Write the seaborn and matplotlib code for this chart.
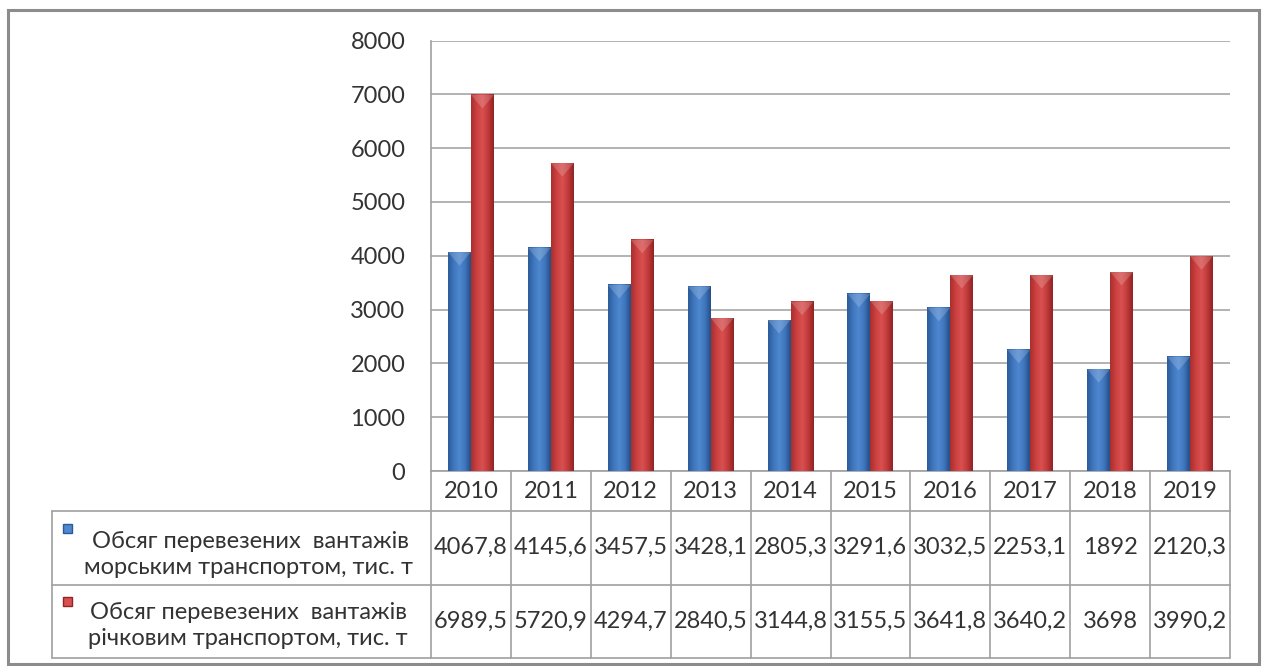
import numpy as np
import pandas as pd
import matplotlib
matplotlib.use("Agg")
import matplotlib.pyplot as plt
import seaborn as sns
from matplotlib.colors import LinearSegmentedColormap
from matplotlib.patches import Rectangle
from matplotlib.lines import Line2D
from matplotlib.transforms import blended_transform_factory

# ---- data ----
years = ["2010", "2011", "2012", "2013", "2014", "2015", "2016", "2017", "2018", "2019"]
sea = [4067.8, 4145.6, 3457.5, 3428.1, 2805.3, 3291.6, 3032.5, 2253.1, 1892, 2120.3]
river = [6989.5, 5720.9, 4294.7, 2840.5, 3144.8, 3155.5, 3641.8, 3640.2, 3698, 3990.2]
series_labels = [" Обсяг перевезених  вантажів\nморським транспортом, тис. т",
                 "Обсяг перевезених  вантажів\nрічковим транспортом, тис. т"]
y_ticks = [0, 1000, 2000, 3000, 4000, 5000, 6000, 7000, 8000]

sns.set_theme(style="white")
plt.rcParams['font.family'] = ['Lato', 'DejaVu Sans']

W, H = 1265, 666
fig = plt.figure(figsize=(W / 100, H / 100), dpi=100)
fig.patch.set_facecolor("white")

L, R, T, B = 431, 1230, 40.5, 471
ax = fig.add_axes([L / W, 1 - B / H, (R - L) / W, (B - T) / H])

df = pd.DataFrame({
    "year": years * 2,
    "value": sea + river,
    "series": ["sea"] * len(years) + ["river"] * len(years),
})
base_cols = {"sea": "#3b6fb6", "river": "#c53a3a"}
sns.barplot(data=df, x="year", y="value", hue="series", hue_order=["sea", "river"],
            palette=base_cols, width=0.575, ax=ax, legend=False, zorder=3,
            edgecolor="none", linewidth=0)

# gradient shading on bars
cmaps = [
    LinearSegmentedColormap.from_list("b", ["#2b5a98", "#3f76be", "#5088cf", "#3f76be", "#244e86"]),
    LinearSegmentedColormap.from_list("r", ["#a82e2e", "#cc4040", "#d85050", "#c23a3a", "#8e2424"]),
]
grad = np.linspace(0, 1, 64).reshape(1, -1)
n = len(years)
for i, p in enumerate(ax.patches):
    x0, w, h = p.get_x(), p.get_width(), p.get_height()
    cm = cmaps[0] if i < n else cmaps[1]
    ax.imshow(grad, extent=[x0, x0 + w, 0, h], aspect="auto", cmap=cm,
              zorder=4, interpolation="bicubic")
    # top bevel highlight
    tri_h = 250 if h > 300 else h * 0.3
    ax.fill([x0, x0 + w, x0 + w / 2], [h, h, h - tri_h], color="white", alpha=0.18, zorder=5, lw=0)

ax.set_xlim(-0.5, n - 0.5)
ax.set_ylim(0, 8000)
ax.set_yticks(y_ticks)
ax.set_yticklabels([str(t) for t in y_ticks])
ax.set_xticks([])
ax.set_xlabel("")
ax.set_ylabel("")
ax.yaxis.grid(True, color="#a6a6a6", linewidth=1.2, zorder=0)
ax.set_axisbelow(True)
for s in ["top", "right"]:
    ax.spines[s].set_visible(False)
for s in ["left", "bottom"]:
    ax.spines[s].set_color("#a0a0a0")
    ax.spines[s].set_linewidth(1.2)
ax.tick_params(axis="y", length=0, pad=18.5, labelsize=17, labelcolor="#333333")

# ---- data table ----
def fy(y):
    return 1 - y / H

def fx(x):
    return x / W

tr = blended_transform_factory(ax.transData, fig.transFigure)
line_kw = dict(color="#a0a0a0", linewidth=1.2, clip_on=False)
y_row = [471, 511, 584.5, 658]
TL = 52
# horizontal lines
for y in y_row[1:]:
    fig.add_artist(Line2D([fx(TL), fx(R)], [fy(y), fy(y)], transform=fig.transFigure, **line_kw))
# vertical lines between categories
for k in range(n + 1):
    xk = k - 0.5
    fig.add_artist(Line2D([xk, xk], [fy(471), fy(658)], transform=tr, **line_kw))
fig.add_artist(Line2D([fx(TL), fx(TL)], [fy(511), fy(658)], transform=fig.transFigure, **line_kw))

txt_col = "#333333"
for k, yr in enumerate(years):
    fig.text(k, fy(492), yr, transform=tr, ha="center", va="center", fontsize=17, color=txt_col)

def fmt(v):
    return f"{v:g}".replace(".", ",")

for r, vals in enumerate([sea, river]):
    yc = (y_row[r + 1] + y_row[r + 2]) / 2
    for k, v in enumerate(vals):
        fig.text(k, fy(yc), fmt(v), transform=tr, ha="center", va="center",
                 fontsize=17, color=txt_col)

# row labels with legend keys
key_cols = [("#5088cf", "#2b5a98"), ("#d85050", "#8e2424")]
offs = [7, 4]
for r, lab in enumerate(series_labels):
    yc = (y_row[r + 1] + y_row[r + 2]) / 2
    fig.text(fx(248), fy(yc + offs[r]), lab, ha="center", va="center", fontsize=17,
             color=txt_col, linespacing=1.3, transform=fig.transFigure)
    ky = 524 if r == 0 else 597
    fig.add_artist(Rectangle((fx(63), fy(ky + 9)), 9 / W, 9 / H, transform=fig.transFigure,
                             facecolor=key_cols[r][0], edgecolor=key_cols[r][1], linewidth=1))

# outer border
fig.add_artist(Rectangle((fx(8), fy(664)), (1259 - 8) / W, (664 - 10) / H,
                         transform=fig.transFigure, fill=False, edgecolor="#8c8c8c",
                         linewidth=2.2))

fig.savefig("out.png", dpi=100, facecolor="white")
